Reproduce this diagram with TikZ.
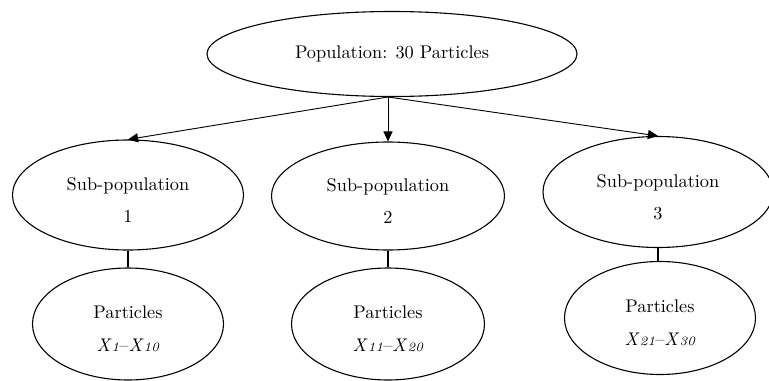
\documentclass[tikz,border=0pt]{standalone}
\usetikzlibrary{shapes.geometric,arrows.meta}
\newcommand{\xsub}[1]{\textit{X}{\scriptsize\textit{#1}}}
\newcommand{\lift}{\rule{0pt}{12.5pt}}
\begin{document}
\begin{tikzpicture}[x=0.0192cm,y=-0.0192cm,
    blob/.style 2 args={draw,ellipse,inner sep=0pt,line width=0.6pt,align=center,
        minimum width={#1*0.0192cm},minimum height={#2*0.0192cm}},
    feed/.style={line width=0.5pt,-{Triangle[length=5.5pt,width=5pt]}},
    link/.style={line width=0.6pt}]
    \useasboundingbox (0,0) rectangle (769,381);
    \clip (0,0) rectangle (769,381);
    % whole population
    \node[blob={370}{85}] (pop) at (392,54) {Population: 30 Particles};
    \coordinate (hub) at (388,97);
    % sub-populations
    \node[blob={231}{110}] (s1) at (128,195) {\lift Sub-population\\[5.5pt]1};
    \node[blob={233}{108}] (s2) at (388,196) {\lift Sub-population\\[5.5pt]2};
    \node[blob={230}{111}] (s3) at (658,192) {\lift Sub-population\\[5.5pt]3};
    % particles of each group
    \node[blob={191}{112}] (p1) at (128,324) {\lift Particles\\[6pt]\xsub{1}--\xsub{10}};
    \node[blob={193}{112}] (p2) at (388,324) {\lift Particles\\[6pt]\xsub{11}--\xsub{20}};
    \node[blob={191}{113}] (p3) at (660,318) {\lift Particles\\[6pt]\xsub{21}--\xsub{30}};
    \foreach \i in {1,2,3}{
        \draw[feed] (hub) -- (s\i.north);
        \draw[link] (s\i.south) -- (s\i.south |- p\i.north);
    }
\end{tikzpicture}
\end{document}
